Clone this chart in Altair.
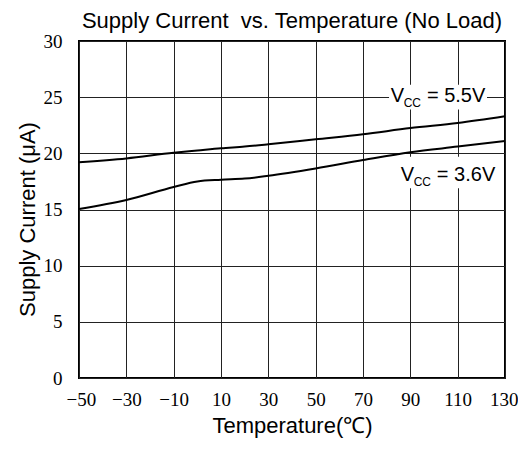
import altair as alt
import pandas as pd

temps = [-50, -30, -10, 0, 10, 20, 30, 50, 70, 90, 110, 130]
i_55 = [19.2, 19.55, 20.05, 20.25, 20.45, 20.6, 20.8, 21.25, 21.7, 22.25, 22.7, 23.3]
i_36 = [15.05, 15.85, 17.0, 17.5, 17.65, 17.75, 18.0, 18.65, 19.4, 20.1, 20.6, 21.1]

rows = []
for t, a, b in zip(temps, i_55, i_36):
    rows.append({"t": t, "i": a, "s": "5.5V"})
    rows.append({"t": t, "i": b, "s": "3.6V"})
df = pd.DataFrame(rows)

x_ticks = [-50, -30, -10, 10, 30, 50, 70, 90, 110, 130]
y_ticks = [0, 5, 10, 15, 20, 25, 30]

xs = alt.Scale(domain=[-50, 130], nice=False, zero=False)
ys = alt.Scale(domain=[0, 30], nice=False)

SANS = "Liberation Sans"
SERIF = "Liberation Serif"

base_x = alt.X("t:Q", scale=xs, title="Temperature(℃)",
               axis=alt.Axis(values=x_ticks, grid=True, gridColor="#222", gridOpacity=1,
                             gridWidth=1, ticks=False, domain=False, labelFlush=True,
                             labelFlushOffset=13,
                             labelFont=SERIF, labelFontSize=19, labelColor="#000",
                             labelPadding=12, titleFont=SANS, titleFontSize=22,
                             titleFontWeight="normal", titleColor="#000", titlePadding=6,
                             labelExpr="replace(datum.label, '-', '\u2212')"))
base_y = alt.Y("i:Q", scale=ys, title="Supply Current (\u03bcA)",
               axis=alt.Axis(values=y_ticks, grid=True, gridColor="#222", gridOpacity=1,
                             gridWidth=1, ticks=False, domain=False, labelFlush=False,
                             labelFont=SERIF, labelFontSize=19, labelColor="#000",
                             labelPadding=17, titleFont=SANS, titleFontSize=22,
                             titleFontWeight="normal", titleColor="#000", titlePadding=4,
                             titleY=178))

lines = alt.Chart(df).mark_line(color="black", strokeWidth=2, interpolate="monotone").encode(
    x=base_x, y=base_y, detail="s:N")

boxes = pd.DataFrame([
    {"x1": 81.0, "x2": 122.4, "y1": 23.9, "y2": 26.1},
    {"x1": 85.6, "x2": 125.8, "y1": 16.9, "y2": 19.7},
])
rects = alt.Chart(boxes).mark_rect(color="white").encode(
    x=alt.X("x1:Q", scale=xs), x2="x2:Q", y=alt.Y("y1:Q", scale=ys), y2="y2:Q")

big = pd.DataFrame([
    {"x": 81.7, "y": 24.57, "txt": "V"},
    {"x": 97.0, "y": 24.57, "txt": "= 5.5V"},
    {"x": 85.9, "y": 17.54, "txt": "V"},
    {"x": 101.2, "y": 17.54, "txt": "= 3.6V"},
])
small = pd.DataFrame([
    {"x": 87.2, "y": 24.15, "txt": "CC"},
    {"x": 91.4, "y": 17.12, "txt": "CC"},
])
big_t = alt.Chart(big).mark_text(font=SANS, fontSize=20, align="left", baseline="alphabetic",
                                 color="black").encode(
    x=alt.X("x:Q", scale=xs), y=alt.Y("y:Q", scale=ys), text="txt:N")
small_t = alt.Chart(small).mark_text(font=SANS, fontSize=12, align="left", baseline="alphabetic",
                                     color="black").encode(
    x=alt.X("x:Q", scale=xs), y=alt.Y("y:Q", scale=ys), text="txt:N")

chart = alt.layer(lines, rects, big_t, small_t).properties(
    width=426, height=337,
    title=alt.TitleParams("Supply Current\u00a0 vs. Temperature (No Load)", font=SANS,
                          fontSize=22, fontWeight="normal", color="black", offset=-1),
    autosize=alt.AutoSizeParams(type="none"),
    padding={"left": 71, "top": 33, "right": 13, "bottom": 61},
).configure_view(stroke="black", strokeWidth=2)

chart.save("out.html", embed_options={"renderer": "svg", "actions": False})
